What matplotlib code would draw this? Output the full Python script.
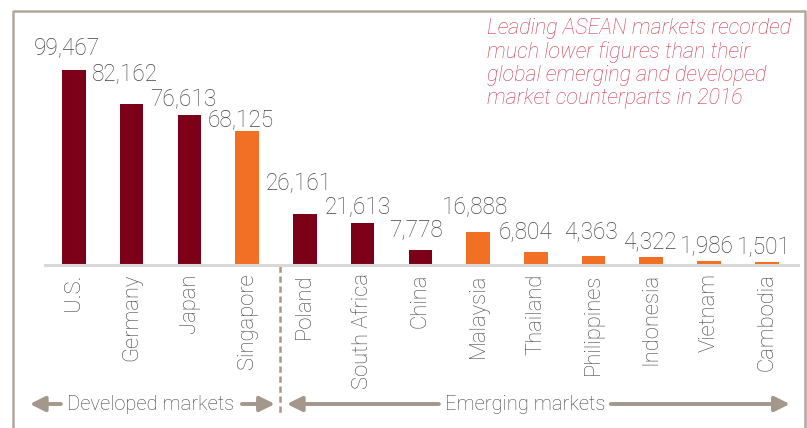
import matplotlib
matplotlib.use("Agg")
import matplotlib.pyplot as plt
from matplotlib import transforms
from matplotlib.lines import Line2D

countries = ["U.S.", "Germany", "Japan", "Singapore", "Poland", "South Africa",
             "China", "Malaysia", "Thailand", "Philippines", "Indonesia",
             "Vietnam", "Cambodia"]
values = [99467, 82162, 76613, 68125, 26161, 21613, 7778, 16888, 6804,
          4363, 4322, 1986, 1501]
is_asean = [False, False, False, True, False, False, False, True, True,
            True, True, True, True]
group_labels = ["Developed markets", "Emerging markets"]
note = ("Leading ASEAN markets recorded\nmuch lower figures than their\n"
        "global emerging and developed\nmarket counterparts in 2016")

DARK = "#7d0019"
ORANGE = "#f27024"
GREY_TXT = "#444444"
FRAME = "#b1a89f"
ARROW = "#a4978c"
NOTE = "#d43c55"

plt.rcParams['font.family'] = ['Roboto', 'DejaVu Sans']

W, H = 807, 428
fig = plt.figure(figsize=(W / 100, H / 100), dpi=100)
ax = fig.add_axes([45 / W, 1 - 265 / H, (798 - 45) / W, 255 / H])

x = list(range(len(countries)))
colors = [ORANGE if a else DARK for a in is_asean]
ax.bar(x, values, width=0.41, color=colors, zorder=2)
ax.set_xlim(-0.5, 12.54)
ax.set_ylim(0, 130073)

for s in ["top", "right", "left"]:
    ax.spines[s].set_visible(False)
ax.spines["bottom"].set_color("#d8d8d8")
ax.spines["bottom"].set_linewidth(2.2)
ax.set_yticks([])
ax.set_xticks(x)
ax.set_xticklabels(countries, rotation=90, fontsize=15.8, color=GREY_TXT,
                   fontweight="light", va="top")
ax.tick_params(axis="x", length=0, pad=6)

# value labels (layout offsets in pixels)
label_dx = [-7, -7, -6, -6, -6, -5, -4, -3, -10, -3, -2, -2, -3]
label_dy = [22, 29, 15, 11, 30, 15, 20, 24, 20, 25, 15, 14, 14]
for i, v in enumerate(values):
    ax.annotate(f"{v:,}", (i, v), xytext=(label_dx[i], label_dy[i]),
                textcoords="offset pixels", ha="center", va="center",
                fontsize=16.3, color=GREY_TXT, fontweight="light")

# note
fig.text(487 / W, 1 - 18 / H, note, ha="left", va="top", fontsize=15.5,
         style="italic", color=NOTE, fontweight="light", linespacing=1.12)

# frame
fig.add_artist(Line2D([13.5 / W, 13.5 / W, 804.5 / W, 804.5 / W],
                      [0, 1 - 10.5 / H, 1 - 10.5 / H, 0],
                      transform=fig.transFigure, color=FRAME, lw=1.8))

# group markers
blend = transforms.blended_transform_factory(ax.transData, fig.transFigure)
yb = 1 - 404 / H
ax.add_line(Line2D([3.57, 3.57], [1 - 266 / H, 1 - 416 / H], transform=blend,
                   color=ARROW, lw=1.8, ls=(0, (2.5, 1.5)), clip_on=False))

def px(xp):
    return (xp - 74) / 57.75

arrow_kw = dict(arrowstyle="-|>,head_length=0.9,head_width=0.45", lw=2.8,
                color=ARROW, shrinkA=0, shrinkB=0)
segments = [(61, 30), (242, 275), (439, 287), (611, 790)]
for tail, tip in segments:
    ax.annotate("", xy=(px(tip), yb), xytext=(px(tail), yb), xycoords=blend,
                textcoords=blend, arrowprops=arrow_kw, annotation_clip=False)
fig.text(151 / W, yb, group_labels[0], ha="center", va="center", fontsize=14.5,
         color=GREY_TXT, fontweight="light")
fig.text(525 / W, yb, group_labels[1], ha="center", va="center", fontsize=14.5,
         color=GREY_TXT, fontweight="light")

fig.savefig("out.png", dpi=100)
